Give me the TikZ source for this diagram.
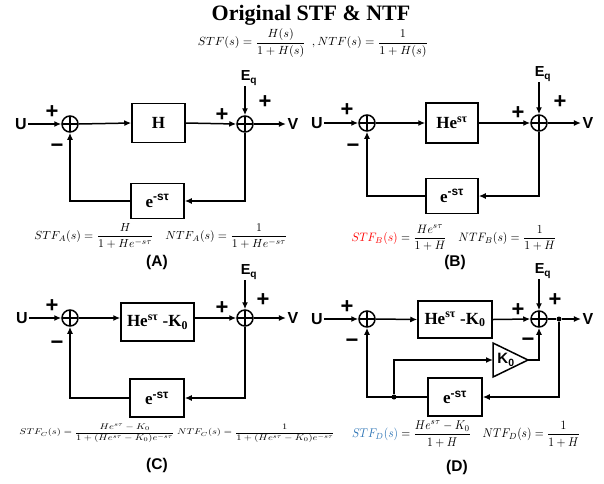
\documentclass[tikz,border=0pt]{standalone}
\usepackage{amsmath}
\usepackage{graphicx}
\usepackage{fontspec}
\setmainfont{Liberation Serif}
\setsansfont{Liberation Sans}
\usetikzlibrary{arrows.meta}
\definecolor{stfred}{RGB}{255,0,0}
\definecolor{stfblue}{RGB}{46,117,182}
\tikzset{
  wire/.style={line width=1.5pt},
  arr/.style={wire,-{Latex[length=7pt,width=6pt]}},
  sumj/.style={circle,draw,line width=1.5pt,minimum size=16pt,inner sep=0pt,
    path picture={\draw[line width=1.3pt] (path picture bounding box.north)--(path picture bounding box.south)
      (path picture bounding box.west)--(path picture bounding box.east);}},
  blk/.style={draw,line width=1.5pt,inner sep=0pt,font=\bfseries\fontsize{17}{17}\selectfont},
  sig/.style={font=\sffamily\bfseries\fontsize{16}{16}\selectfont,inner sep=1.5pt},
  eqsig/.style={font=\sffamily\bfseries\fontsize{14.5}{14.5}\selectfont,inner sep=1pt},
  pmsign/.style={font=\sffamily\bfseries\fontsize{22}{22}\selectfont,inner sep=0pt},
  capt/.style={font=\sffamily\bfseries\fontsize{15.5}{15.5}\selectfont,inner sep=0pt},
  frm/.style={inner sep=0pt},
  dot/.style={circle,fill,inner sep=0pt,minimum size=5pt},
}
\newcommand{\minussign}{−}
\begin{document}
\begin{tikzpicture}[x=1pt,y=-1pt]
\useasboundingbox (0,0) rectangle (604,483);
% title
\node[anchor=base,inner sep=0pt,font=\bfseries\fontsize{22}{22}\selectfont] (title) at (311,20) {Original STF \& NTF};
\node[frm] (feq) at (313,43) {\resizebox*{230pt}{28pt}{$STF(s)=\dfrac{H(s)}{1+H(s)}\ \ ,NTF(s)=\dfrac{1}{1+H(s)}$}};

% ---------- Panel A ----------
\node[sig] (UA) at (21,124) {U};
\node[sumj] (sA1) at (70,124) {};
\node[blk,minimum width=53pt,minimum height=39pt] (HA) at (158.5,123) {H};
\node[sumj] (sA2) at (245,124) {};
\node[sig] (VA) at (293,124) {V};
\node[eqsig] (EqA) at (249,78) {E\textsubscript{q}};
\node[blk,minimum width=53pt,minimum height=35pt] (eA) at (157.5,201) {e\textsuperscript{\sffamily -sτ}};
\node[pmsign] at (52,112) {+};
\node[pmsign] at (57,148) {\minussign};
\node[pmsign] at (222,115) {+};
\node[pmsign] at (265,102) {+};
\draw[arr] (UA.east) -- (sA1.west);
\draw[arr] (sA1.east) -- (HA.west);
\draw[arr] (HA.east) -- (sA2.west);
\draw[arr] (sA2.east) -- (VA.west);
\draw[arr] (EqA.south -| sA2.north) -- (sA2.north);
\draw[arr] (sA2.south) |- (eA.east);
\draw[arr] (eA.west) -| (sA1.south);
\node[frm] (fA) at (161,236) {\resizebox*{253pt}{25pt}{$STF_A(s)=\dfrac{H}{1+He^{-s\tau}}\quad NTF_A(s)=\dfrac{1}{1+He^{-s\tau}}$}};
\node[capt] (cA) at (157,262) {(A)};

% ---------- Panel B ----------
\node[sig] (UB) at (317,123) {U};
\node[sumj] (sB1) at (367,123) {};
\node[blk,minimum width=52pt,minimum height=40pt] (HB) at (452,123) {He\textsuperscript{sτ}};
\node[sumj] (sB2) at (539,123) {};
\node[sig] (VB) at (588,123) {V};
\node[eqsig] (EqB) at (543,74) {E\textsubscript{q}};
\node[blk,minimum width=52pt,minimum height=35pt] (eB) at (452,196) {e\textsuperscript{\sffamily -sτ}};
\node[pmsign] at (347,110) {+};
\node[pmsign] at (353,148) {\minussign};
\node[pmsign] at (518,113) {+};
\node[pmsign] at (560,102) {+};
\draw[arr] (UB.east) -- (sB1.west);
\draw[arr] (sB1.east) -- (HB.west);
\draw[arr] (HB.east) -- (sB2.west);
\draw[arr] (sB2.east) -- (VB.west);
\draw[arr] (EqB.south -| sB2.north) -- (sB2.north);
\draw[arr] (sB2.south) |- (eB.east);
\draw[arr] (eB.west) -| (sB1.south);
\node[frm] (fB) at (454,238) {\resizebox*{205pt}{26pt}{${\color{stfred}STF_B(s)}=\dfrac{He^{s\tau}}{1+H}\quad NTF_B(s)=\dfrac{1}{1+H}$}};
\node[capt] (cB) at (455,262) {(B)};

% ---------- Panel C ----------
\node[sig] (UC) at (22,318) {U};
\node[sumj] (sC1) at (70,318) {};
\node[blk,minimum width=73pt,minimum height=38pt] (HC) at (157.5,322) {He\textsuperscript{sτ} -K\textsubscript{0}};
\node[sumj] (sC2) at (245,318) {};
\node[sig] (VC) at (293,318) {V};
\node[eqsig] (EqC) at (249,272) {E\textsubscript{q}};
\node[blk,minimum width=54pt,minimum height=38pt] (eC) at (157,398) {e\textsuperscript{\sffamily -sτ}};
\node[pmsign] at (52,306) {+};
\node[pmsign] at (57,345) {\minussign};
\node[pmsign] at (222,308) {+};
\node[pmsign] at (263,300) {+};
\draw[arr] (UC.east) -- (sC1.west);
\draw[arr] (sC1.east) -- (sC1.east -| HC.west);
\draw[arr] (sC2.west -| HC.east) -- (sC2.west);
\draw[arr] (sC2.east) -- (VC.west);
\draw[arr] (EqC.south -| sC2.north) -- (sC2.north);
\draw[arr] (sC2.south) |- (eC.east);
\draw[arr] (eC.west) -| (sC1.south);
\node[frm] (fC) at (177,433) {\resizebox*{315pt}{19pt}{$STF_C(s)=\dfrac{He^{s\tau}-K_0}{1+(He^{s\tau}-K_0)e^{-s\tau}}\ NTF_C(s)=\dfrac{1}{1+(He^{s\tau}-K_0)e^{-s\tau}}$}};
\node[capt] (cC) at (157,465) {(C)};

% ---------- Panel D ----------
\node[sig] (UD) at (317,319) {U};
\node[sumj] (sD1) at (367,319) {};
\node[blk,minimum width=74pt,minimum height=37pt] (HD) at (455,319.5) {He\textsuperscript{sτ} -K\textsubscript{0}};
\node[sumj] (sD2) at (539,319) {};
\node[dot] (dD1) at (559,319) {};
\node[sig] (VD) at (588,319) {V};
\node[eqsig] (EqD) at (543,271) {E\textsubscript{q}};
\node[blk,minimum width=54pt,minimum height=38pt] (eD) at (455,397) {e\textsuperscript{\sffamily -sτ}};
\coordinate (Ktop) at (493,343);
\coordinate (Kbot) at (493,377);
\coordinate (Kin) at (493,360);
\coordinate (Kout) at (528,360);
\draw[wire,line join=miter] (Ktop) -- (Kbot) -- (Kout) -- cycle;
\node[font=\sffamily\bfseries\fontsize{15}{15}\selectfont,inner sep=0pt] (K0) at (506,360) {K\textsubscript{0}};
\node[pmsign] at (347,307) {+};
\node[pmsign] at (352,343) {\minussign};
\node[pmsign] at (518,310) {+};
\node[pmsign] at (555,300) {+};
\node[pmsign] at (528,342) {\minussign};
\draw[arr] (UD.east) -- (sD1.west);
\draw[arr] (sD1.east) -- (HD.west);
\draw[arr] (HD.east) -- (sD2.west);
\draw[wire] (sD2.east) -- (dD1);
\draw[arr] (dD1) -- (VD.west);
\draw[arr] (EqD.south -| sD2.north) -- (sD2.north);
\draw[arr] (dD1) |- (eD.east);
\draw[arr] (eD.west) -| (sD1.south);
\node[dot] (dD2) at (394,397) {};
\draw[arr] (dD2) |- (Kin);
\draw[arr] (Kout) -| (sD2.south);
\node[frm] (fD) at (466,434) {\resizebox*{228pt}{27pt}{${\color{stfblue}STF_D(s)}=\dfrac{He^{s\tau}-K_0}{1+H}\quad NTF_D(s)=\dfrac{1}{1+H}$}};
\node[capt] (cD) at (457,467) {(D)};
\end{tikzpicture}
\end{document}
